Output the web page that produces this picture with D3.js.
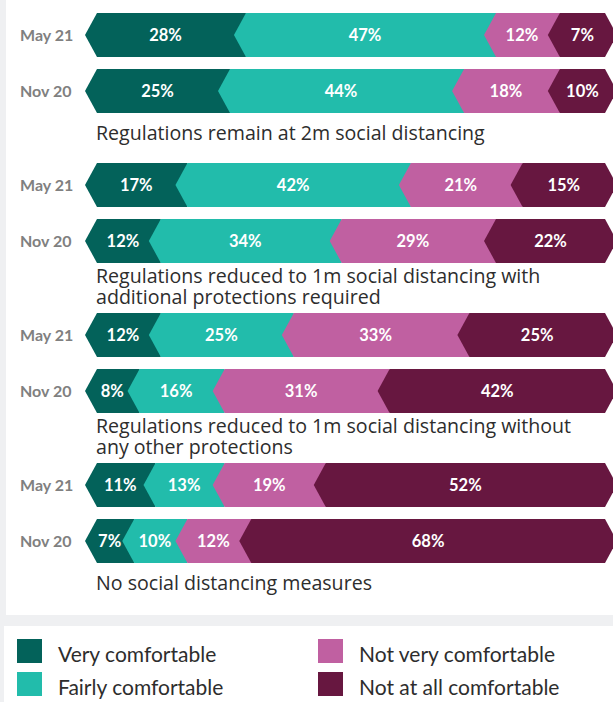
<!DOCTYPE html>
<html>
<head>
<meta charset="utf-8">
<script src="https://cdn.jsdelivr.net/npm/d3@7"></script>
<style>
  html, body { margin: 0; padding: 0; background: #eff0f2; }
  svg { display: block; }
</style>
</head>
<body>
<svg id="chart" width="613" height="702"></svg>
<script>
const scenarios = [
  "Regulations remain at 2m social distancing",
  "Regulations reduced to 1m social distancing with additional protections required",
  "Regulations reduced to 1m social distancing without any other protections",
  "No social distancing measures"
];
const captionLines = [
  ["Regulations remain at 2m social distancing"],
  ["Regulations reduced to 1m social distancing with", "additional protections required"],
  ["Regulations reduced to 1m social distancing without", "any other protections"],
  ["No social distancing measures"]
];
const periods = ["May 21", "Nov 20"];
const seriesNames = ["Very comfortable", "Fairly comfortable", "Not very comfortable", "Not at all comfortable"];
const colors = ["#03625a", "#22bcab", "#c060a1", "#671740"];
// values per row: scenario 1 May21, Nov20, scenario 2 May21, Nov20, ...
const veryComfortable     = [28, 25, 17, 12, 12, 8, 11, 7];
const fairlyComfortable   = [47, 44, 42, 34, 25, 16, 13, 10];
const notVeryComfortable  = [12, 18, 21, 29, 33, 31, 19, 12];
const notAtAllComfortable = [7, 10, 15, 22, 25, 42, 52, 68];

const series = [veryComfortable, fairlyComfortable, notVeryComfortable, notAtAllComfortable];

const svg = d3.select("#chart");
const W = 613, H = 702;
const FONT = "Lato, 'Open Sans', sans-serif";
const CAPFONT = "'Open Sans', Lato, sans-serif";

// panels
svg.append("rect").attr("x", 6).attr("y", 0).attr("width", W - 6).attr("height", 615).attr("fill", "#ffffff");
svg.append("rect").attr("x", 4).attr("y", 626).attr("width", W - 4).attr("height", H - 626).attr("fill", "#ffffff");

const x = d3.scaleLinear().domain([0, 100]).range([85, 617]);
const notch = 12;

const yGroup = d3.scaleBand().domain(scenarios).range([13, 613]).paddingInner(0).paddingOuter(0);
const yRow = d3.scaleBand().domain(periods).range([0, 100]).paddingInner(12 / 56).paddingOuter(0);
const bh = yRow.bandwidth();

scenarios.forEach((sc, gi) => {
  const g = svg.append("g").attr("transform", `translate(0,${yGroup(sc)})`);
  periods.forEach((p, pi) => {
    const ri = gi * 2 + pi;
    const vals = series.map(s => s[ri]);
    let cum = 0;
    const segs = vals.map((v, i) => {
      const s = { i, v, c0: cum, c1: cum + v, last: i === vals.length - 1 };
      cum += v;
      return s;
    });
    const y0 = yRow(p), y1 = y0 + bh, ym = y0 + bh / 2;
    const row = g.append("g");
    row.append("text")
      .attr("x", 20).attr("y", ym).attr("dy", "0.36em")
      .attr("fill", "#808080").attr("font-family", FONT).attr("font-weight", 700)
      .attr("font-size", 16).text(p);
    row.selectAll("path.seg").data(segs).enter().append("path")
      .attr("class", "seg")
      .attr("fill", d => colors[d.i])
      .attr("d", d => {
        const a = x(d.c0);
        if (d.last) {
          const e = x(100) - notch;
          return `M${a},${ym}L${a + notch},${y0}L${e},${y0}L${e + notch},${ym}L${e},${y1}L${a + notch},${y1}Z`;
        }
        const b = x(d.c1) + notch;
        return `M${a},${ym}L${a + notch},${y0}L${b},${y0}L${b},${y1}L${a + notch},${y1}Z`;
      });
    row.selectAll("text.val").data(segs).enter().append("text")
      .attr("class", "val")
      .attr("x", d => {
        const a = x(d.c0);
        const b = d.last ? x(100) - notch : x(d.c1);
        return (a + b) / 2 + notch / 2;
      })
      .attr("y", ym).attr("dy", "0.36em")
      .attr("text-anchor", "middle")
      .attr("fill", "#ffffff").attr("font-family", FONT).attr("font-weight", 700)
      .attr("font-size", 16.5).text(d => d.v + "%");
  });
  const lines = captionLines[gi];
  const base = yRow(periods[1]) + bh + (lines.length === 1 ? 27 : 20);
  g.append("text")
    .attr("font-family", CAPFONT).attr("font-size", 19.6).attr("fill", "#2d2d2d")
    .selectAll("tspan").data(lines).enter().append("tspan")
    .attr("x", 96).attr("y", (d, i) => base + i * 21).text(d => d);
});

// legend
const legend = svg.append("g");
const lx = d3.scalePoint().domain([0, 1]).range([17, 318]);
seriesNames.forEach((name, i) => {
  const col = Math.floor(i / 2), r = i % 2;
  const gx = lx(col), gy = 639 + r * 33;
  legend.append("rect").attr("x", gx).attr("y", gy).attr("width", 25).attr("height", 24).attr("fill", colors[i]);
  legend.append("text").attr("x", gx + 41).attr("y", gy + 23)
    .attr("font-family", FONT).attr("font-size", 21).attr("fill", "#2d2d2d").text(name);
});
</script>
</body>
</html>
